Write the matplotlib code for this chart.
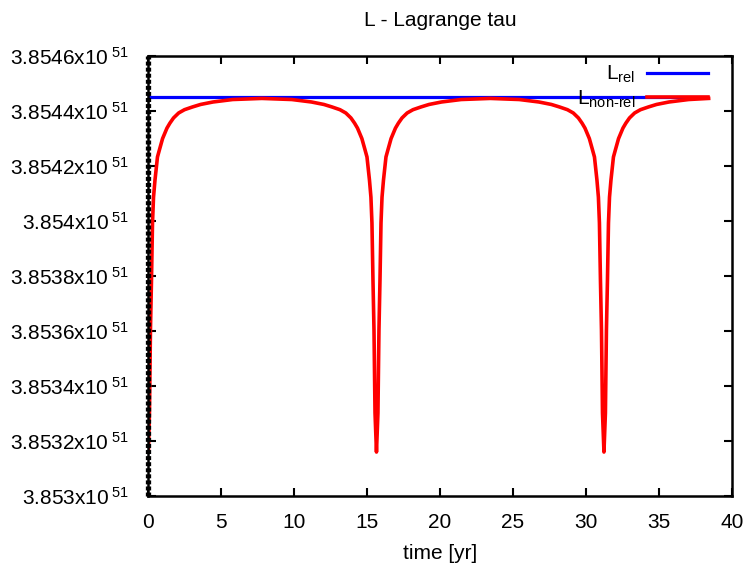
import matplotlib
matplotlib.use('Agg')
import matplotlib.pyplot as plt

plt.rcParams['font.family'] = ['Liberation Sans', 'DejaVu Sans']
plt.rcParams['mathtext.fontset'] = 'custom'
plt.rcParams['mathtext.rm'] = 'Liberation Sans'
plt.rcParams['mathtext.default'] = 'regular'

# values in units of 1e51
t_rel = [0.0, 38.3]
L_rel = [3.854451, 3.854451]

t_nonrel = [0.03, 0.1, 0.17, 0.24, 0.31, 0.38, 0.48, 0.65, 0.8, 1.0, 1.3, 1.5,
            1.75, 2.1, 2.5, 3.05, 3.6, 4.45, 5.8, 7.8,
            9.85, 11.2, 12.05, 12.6, 13.15, 13.55, 13.9, 14.15, 14.35, 14.65,
            14.85, 15.0, 15.17, 15.27, 15.34, 15.41, 15.48, 15.55, 15.65,
            15.75, 15.82, 15.89, 15.96, 16.03, 16.13, 16.3, 16.45, 16.65, 16.95,
            17.15, 17.4, 17.75, 18.15, 18.7, 19.25, 20.1, 21.45, 23.45,
            25.43, 26.78, 27.63, 28.18, 28.73, 29.13, 29.48, 29.73, 29.93, 30.23,
            30.43, 30.58, 30.75, 30.85, 30.92, 30.99, 31.06, 31.13, 31.23,
            31.33, 31.40, 31.47, 31.54, 31.61, 31.71, 31.88, 32.03, 32.23, 32.53,
            32.73, 32.98, 33.33, 33.73, 34.28, 34.83, 35.68, 37.03, 38.4]
L_nonrel = [3.85316, 3.853302, 3.853604, 3.853785, 3.853993, 3.854087, 3.854149,
            3.854233, 3.854262, 3.8543, 3.854338, 3.854356, 3.854375, 3.854393,
            3.854405, 3.854415, 3.854424, 3.854433, 3.854442, 3.854446,
            3.854442, 3.854433, 3.854424, 3.854415, 3.854405, 3.854393, 3.854375,
            3.854356, 3.854338, 3.8543, 3.854262, 3.854233, 3.854149, 3.854087,
            3.853993, 3.853785, 3.853604, 3.853302, 3.85316,
            3.853302, 3.853604, 3.853785, 3.853993, 3.854087, 3.854149, 3.854233,
            3.854262, 3.8543, 3.854338, 3.854356, 3.854375, 3.854393, 3.854405,
            3.854415, 3.854424, 3.854433, 3.854442, 3.854446,
            3.854442, 3.854433, 3.854424, 3.854415, 3.854405, 3.854393, 3.854375,
            3.854356, 3.854338, 3.8543, 3.854262, 3.854233, 3.854149, 3.854087,
            3.853993, 3.853785, 3.853604, 3.853302, 3.85316,
            3.853302, 3.853604, 3.853785, 3.853993, 3.854087, 3.854149, 3.854233,
            3.854262, 3.8543, 3.854338, 3.854356, 3.854375, 3.854393, 3.854405,
            3.854415, 3.854424, 3.854433, 3.854442, 3.854446]

x_ticks = [0, 5, 10, 15, 20, 25, 30, 35, 40]
y_ticks = [3.853, 3.8532, 3.8534, 3.8536, 3.8538, 3.854, 3.8542, 3.8544, 3.8546]
y_tick_labels = ['3.853', '3.8532', '3.8534', '3.8536', '3.8538', '3.854',
                 '3.8542', '3.8544', '3.8546']

fig = plt.figure(figsize=(7.5, 5.71), dpi=100)
ax = fig.add_axes([0.1973, 0.1313, 0.7787, 0.7705])

ax.plot(t_rel, L_rel, color='#0000ff', lw=2.3, label=r'L$_{rel}$')
ax.plot(t_nonrel, L_nonrel, color='#ff0000', lw=2.6, label=r'L$_{non\text{-}rel}$')
# dotted black line sitting on the left border
ax.axvline(0, color='black', lw=3.8, dashes=(0.75, 0.4), zorder=5, clip_on=False)

ax.set_xlim(0, 40)
ax.set_ylim(3.853, 3.8546)
ax.set_xticks(x_ticks)
ax.set_yticks(y_ticks)
ax.set_yticklabels([s + r'x10$\,^{51}$' for s in y_tick_labels])
ax.tick_params(direction='in', length=6, width=1.5, top=True, right=True,
               labelsize=15)
ax.tick_params(axis='x', pad=12)
ax.tick_params(axis='y', pad=14)
for sp in ax.spines.values():
    sp.set_linewidth(1.8)

ax.set_title('L - Lagrange tau', fontsize=15, pad=22)
ax.set_xlabel('time [yr]', fontsize=15, labelpad=9)

ax.legend(loc='upper right', frameon=False, markerfirst=False, fontsize=15,
          handlelength=2.9, borderaxespad=0.2, labelspacing=0.15,
          handletextpad=0.6, bbox_to_anchor=(0.98, 1.01))

fig.savefig('out.png', dpi=100)
